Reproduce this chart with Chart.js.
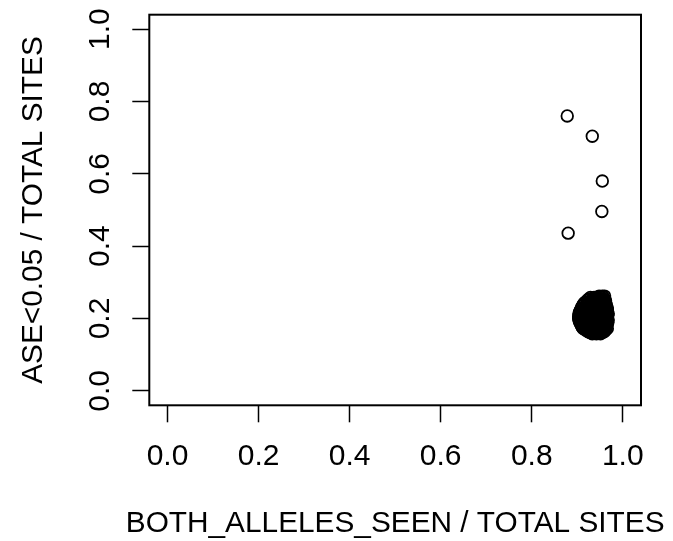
<!DOCTYPE html>
<html>
<head>
<meta charset="utf-8">
<script src="https://cdn.jsdelivr.net/npm/chart.js@4/dist/chart.umd.min.js"></script>
<style>
  body { margin: 0; background: #fff; }
  canvas { display: block; }
</style>
</head>
<body>
<canvas id="grafico" width="673" height="541"></canvas>
<script>
// Dados
const xTicks = [0, 0.2, 0.4, 0.6, 0.8, 1.0];
const yTicks = [0, 0.2, 0.4, 0.6, 0.8, 1.0];
const xTitulo = "BOTH_ALLELES_SEEN / TOTAL SITES";
const yTitulo = "ASE<0.05 / TOTAL SITES";

// pontos isolados
const outlierX = [0.878, 0.933, 0.955, 0.954, 0.880];
const outlierY = [0.760, 0.704, 0.580, 0.496, 0.436];

// aglomerado perto de (0.94, 0.21), por linha
const clusterRowY = [0.262, 0.258, 0.254, 0.250, 0.246, 0.242, 0.238, 0.234, 0.229, 0.225, 0.221, 0.217, 0.213, 0.209,
                     0.205, 0.200, 0.196, 0.192, 0.188, 0.184, 0.180, 0.176, 0.172, 0.168, 0.163, 0.161, 0.158];
const clusterRowX = [
  [0.948, 0.955, 0.960],
  [0.929, 0.937, 0.945, 0.953, 0.958],
  [0.925, 0.933, 0.941, 0.949, 0.957],
  [0.922, 0.931, 0.940, 0.948, 0.956, 0.962],
  [0.918, 0.927, 0.936, 0.944, 0.953, 0.961],
  [0.915, 0.924, 0.933, 0.942, 0.951, 0.960],
  [0.913, 0.922, 0.931, 0.940, 0.948, 0.957, 0.964],
  [0.911, 0.920, 0.929, 0.938, 0.946, 0.955, 0.963],
  [0.909, 0.917, 0.926, 0.935, 0.944, 0.952, 0.961, 0.966],
  [0.908, 0.916, 0.925, 0.933, 0.942, 0.951, 0.959, 0.966],
  [0.906, 0.914, 0.922, 0.931, 0.939, 0.948, 0.956, 0.965],
  [0.905, 0.913, 0.922, 0.931, 0.940, 0.949, 0.958, 0.966],
  [0.904, 0.911, 0.919, 0.928, 0.936, 0.944, 0.953, 0.961, 0.968],
  [0.904, 0.913, 0.922, 0.931, 0.940, 0.949, 0.958, 0.967],
  [0.903, 0.912, 0.921, 0.930, 0.939, 0.948, 0.957, 0.966],
  [0.903, 0.913, 0.922, 0.931, 0.940, 0.948, 0.957, 0.966],
  [0.904, 0.909, 0.917, 0.926, 0.935, 0.943, 0.952, 0.961, 0.968],
  [0.905, 0.913, 0.922, 0.931, 0.939, 0.947, 0.956, 0.965],
  [0.906, 0.914, 0.923, 0.932, 0.941, 0.950, 0.959, 0.967],
  [0.908, 0.916, 0.925, 0.934, 0.943, 0.952, 0.961, 0.966],
  [0.909, 0.918, 0.927, 0.936, 0.945, 0.954, 0.963],
  [0.911, 0.920, 0.929, 0.938, 0.947, 0.956, 0.964],
  [0.913, 0.921, 0.930, 0.939, 0.948, 0.957, 0.966],
  [0.918, 0.926, 0.935, 0.944, 0.953, 0.962],
  [0.924, 0.933, 0.942, 0.951, 0.959],
  [0.928, 0.937, 0.946, 0.955],
  [0.933, 0.942, 0.951]
];

const fonte = "'Liberation Sans', Arial, Helvetica, sans-serif";

// Montar pontos
const pontos = [];
outlierX.forEach((x, i) => pontos.push({ x: x, y: outlierY[i] }));
clusterRowY.forEach((y, i) => {
  clusterRowX[i].forEach(x => pontos.push({ x: x, y: y }));
});

// Caixa do gráfico, rótulos do eixo y (girados, como no R) e título do eixo x
const caixaPlugin = {
  id: "caixa",
  afterDraw(chart) {
    const ctx = chart.ctx;
    const a = chart.chartArea;
    ctx.save();
    ctx.strokeStyle = "#000";
    ctx.lineWidth = 2;
    ctx.strokeRect(a.left, a.top, a.right - a.left, a.bottom - a.top);

    const escalaY = chart.scales.y;
    ctx.fillStyle = "#000";
    ctx.font = "30px " + fonte;
    ctx.textAlign = "center";
    ctx.textBaseline = "alphabetic";
    yTicks.forEach(v => {
      ctx.save();
      ctx.translate(109.2, escalaY.getPixelForValue(v));
      ctx.rotate(-Math.PI / 2);
      ctx.fillText(v.toFixed(1), 0, 0);
      ctx.restore();
    });

    // título x pode passar da largura da área do gráfico
    ctx.font = "29.8px " + fonte;
    ctx.fillText(xTitulo, (a.left + a.right) / 2, 531.8);
    ctx.restore();
  }
};

new Chart(document.getElementById("grafico"), {
  type: "scatter",
  data: {
    datasets: [{
      data: pontos,
      pointStyle: "circle",
      pointRadius: 5.8,
      pointHoverRadius: 5.8,
      borderColor: "#000",
      backgroundColor: "rgba(0,0,0,0)",
      borderWidth: 1.8
    }]
  },
  options: {
    responsive: false,
    animation: false,
    devicePixelRatio: 1,
    layout: { padding: { top: 14.7, right: 32, left: 0, bottom: 0 } },
    plugins: {
      legend: { display: false },
      tooltip: { enabled: false }
    },
    scales: {
      x: {
        type: "linear",
        min: -0.04,
        max: 1.04,
        afterBuildTicks: (s) => { s.ticks = xTicks.map(v => ({ value: v })); },
        afterFit: (s) => { s.height = 135.7; },
        border: { display: false },
        grid: {
          drawOnChartArea: false,
          drawTicks: true,
          tickLength: 17,
          tickColor: "#000",
          tickWidth: 1.5
        },
        ticks: {
          color: "#000",
          font: { family: fonte, size: 30 },
          padding: 16.7,
          maxRotation: 0,
          callback: (v) => Number(v).toFixed(1)
        },
        title: { display: false }
      },
      y: {
        type: "linear",
        min: -0.04,
        max: 1.04,
        afterBuildTicks: (s) => { s.ticks = yTicks.map(v => ({ value: v })); },
        afterFit: (s) => { s.width = 149.3; },
        border: { display: false },
        grid: {
          drawOnChartArea: false,
          drawTicks: true,
          tickLength: 17,
          tickColor: "#000",
          tickWidth: 1.5
        },
        ticks: { display: false },
        title: {
          display: true,
          text: yTitulo,
          color: "#000",
          font: { family: fonte, size: 29.8 },
          padding: { top: 15.9, bottom: 0 }
        }
      }
    }
  },
  plugins: [caixaPlugin]
});
</script>
</body>
</html>
